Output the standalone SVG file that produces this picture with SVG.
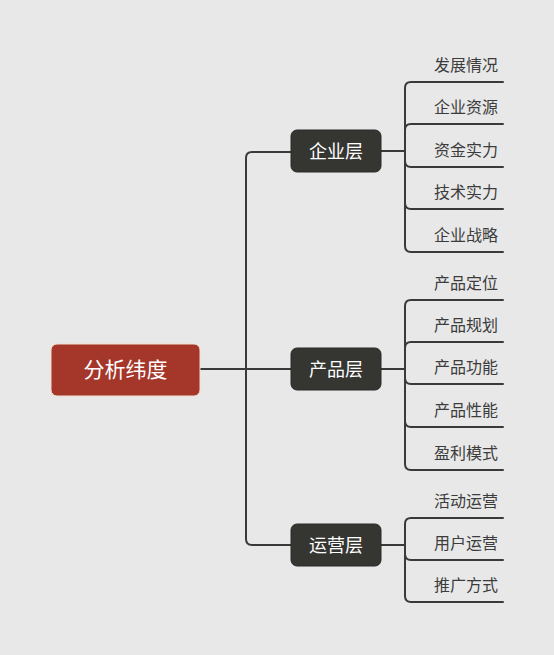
<svg xmlns="http://www.w3.org/2000/svg" width="554" height="655" viewBox="0 0 554 655">
<style>
.ln{fill:none;stroke:#3a3a38;stroke-width:2;stroke-linecap:round}
.l1 rect{fill:#353532;stroke:#2a2a28;stroke-width:1}
.l1 text{fill:#ffffff;font-family:"Noto Sans CJK SC",sans-serif;font-size:18px;text-anchor:middle}
.leaf text{fill:#3c3c3c;font-family:"Noto Sans CJK SC",sans-serif;font-size:16px}
</style>
<rect width="554" height="655" fill="#e8e8e8"/>
<g id="connectors" class="ln">
<path d="M200 369 H291"/>
<path d="M246 369 V158 Q246 152 252 152 H291"/>
<path d="M246 369 V539 Q246 545 252 545 H291"/>
<path d="M381 151 H405"/>
<path d="M405 151 V88 Q405 82 411 82 H503"/>
<path d="M405 151 V130 Q405 124 411 124 H503"/>
<path d="M405 151 V161 Q405 167 411 167 H503"/>
<path d="M405 151 V203 Q405 209 411 209 H503"/>
<path d="M405 151 V246 Q405 252 411 252 H503"/>
<path d="M381 369 H405"/>
<path d="M405 369 V306 Q405 300 411 300 H503"/>
<path d="M405 369 V348 Q405 342 411 342 H503"/>
<path d="M405 369 V378 Q405 384 411 384 H503"/>
<path d="M405 369 V421 Q405 427 411 427 H503"/>
<path d="M405 369 V464 Q405 470 411 470 H503"/>
<path d="M381 545 H405"/>
<path d="M405 545 V524 Q405 518 411 518 H503"/>
<path d="M405 545 V554 Q405 560 411 560 H503"/>
<path d="M405 545 V596 Q405 602 411 602 H503"/>
</g>
<g id="root">
<rect x="51" y="344" width="149" height="52" rx="6" fill="#a5362a" stroke="#f3ddd0" stroke-width="1"/>
<text x="125.5" y="377" fill="#ffffff" font-family="'Noto Sans CJK SC',sans-serif" font-size="21" text-anchor="middle">分析纬度</text>
</g>
<g id="n-enterprise" class="l1"><rect x="291" y="130" width="90" height="42" rx="6"/><text x="336" y="157.5">企业层</text></g>
<g id="n-product" class="l1"><rect x="291" y="348" width="90" height="42" rx="6"/><text x="336" y="375.5">产品层</text></g>
<g id="n-ops" class="l1"><rect x="291" y="524" width="90" height="42" rx="6"/><text x="336" y="551.5">运营层</text></g>
<g id="leaf-1" class="leaf"><text x="434" y="71">发展情况</text></g>
<g id="leaf-2" class="leaf"><text x="434" y="113">企业资源</text></g>
<g id="leaf-3" class="leaf"><text x="434" y="156">资金实力</text></g>
<g id="leaf-4" class="leaf"><text x="434" y="198">技术实力</text></g>
<g id="leaf-5" class="leaf"><text x="434" y="241">企业战略</text></g>
<g id="leaf-6" class="leaf"><text x="434" y="289">产品定位</text></g>
<g id="leaf-7" class="leaf"><text x="434" y="331">产品规划</text></g>
<g id="leaf-8" class="leaf"><text x="434" y="373">产品功能</text></g>
<g id="leaf-9" class="leaf"><text x="434" y="416">产品性能</text></g>
<g id="leaf-10" class="leaf"><text x="434" y="459">盈利模式</text></g>
<g id="leaf-11" class="leaf"><text x="434" y="507">活动运营</text></g>
<g id="leaf-12" class="leaf"><text x="434" y="549">用户运营</text></g>
<g id="leaf-13" class="leaf"><text x="434" y="591">推广方式</text></g>
</svg>
